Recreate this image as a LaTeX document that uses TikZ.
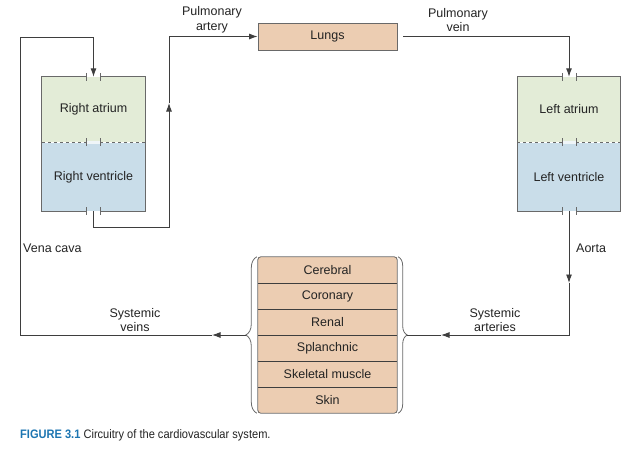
\documentclass[tikz,border=0pt]{standalone}
\usepackage{fontspec}
\setmainfont{Liberation Sans}
\newfontfamily\capfont[FakeStretch=0.9]{Liberation Sans}
\usetikzlibrary{arrows.meta,decorations.pathreplacing}
\definecolor{atrgreen}{RGB}{227,236,215}
\definecolor{venblue}{RGB}{201,221,233}
\definecolor{tanfill}{RGB}{236,205,178}
\definecolor{linec}{RGB}{62,62,62}
\definecolor{bordc}{RGB}{105,105,105}
\definecolor{textc}{RGB}{35,35,35}
\definecolor{capblue}{RGB}{28,117,177}
\newcommand\chamberborders[2]{%
  \draw[boxline] ([xshift=-7pt]#1.north) -- (#1.north west) -- (#2.south west) -- ([xshift=-7pt]#2.south);
  \draw[boxline] ([xshift=7pt]#1.north) -- (#1.north east) -- (#2.south east) -- ([xshift=7pt]#2.south);
  \draw[boxline,dashed] (#1.south west) -- ([xshift=-7pt]#1.south);
  \draw[boxline,dashed] (#1.south east) -- ([xshift=7pt]#1.south);
  \fill[white!70!venblue] ([xshift=-7pt,yshift=1pt]#1.south) rectangle ([xshift=7pt,yshift=-1.5pt]#1.south);
  \foreach \a in {#1.north,#1.south,#2.south}{
    \foreach \s in {-7,7}{
      \draw[boxline] ([xshift=\s pt,yshift=4pt]\a) -- ([xshift=\s pt,yshift=-4pt]\a);
    }
  }
}
\begin{document}
\begin{tikzpicture}[x=1pt,y=-1pt,
  txt/.style={font=\fontsize{12.5}{14.5}\selectfont, text=textc},
  lbl/.style={txt, align=center, inner sep=0pt},
  chamber/.style={txt, minimum width=103pt, inner sep=0pt},
  atr/.style={chamber, fill=atrgreen, minimum height=65pt},
  ven/.style={chamber, fill=venblue, minimum height=68pt},
  organ/.style={txt, fill=tanfill, minimum width=139pt, minimum height=26pt, inner sep=0pt},
  boxline/.style={draw=bordc, line width=0.8pt},
  flow/.style={draw=linec, line width=0.9pt},
  tip/.style={-{Latex[length=8.5pt,width=6pt]}},
  bracestyle/.style={draw=bordc, line width=0.8pt, decorate}]
\useasboundingbox (0,0) rectangle (638,448);

% heart chambers
\node[atr] (ra) at (93.5,109.5) {Right atrium};
\node[ven] (rv) at (93.5,177) {Right ventricle};
\node[atr] (la) at (569,109.5) {Left atrium};
\node[ven] (lv) at (569,177) {Left ventricle};
\chamberborders{ra}{rv}
\chamberborders{la}{lv}

% lungs
\node[organ, minimum height=27pt, draw=bordc, line width=0.8pt] (lungs) at (327.5,36.5) {Lungs};

% systemic organs
\node[organ] (o1) at (327.5,270) {Cerebral};
\node[organ] (o2) at (327.5,296) {Coronary};
\node[organ] (o3) at (327.5,322) {Renal};
\node[organ] (o4) at (327.5,348) {Splanchnic};
\node[organ] (o5) at (327.5,374) {Skeletal muscle};
\node[organ] (o6) at (327.5,400) {Skin};
\foreach \i in {1,...,5}{
  \draw[draw=linec, line width=0.8pt] (o\i.south west) -- (o\i.south east);
}
\draw[boxline, rounded corners=3pt] (o1.north west) rectangle (o6.south east);
\draw[bracestyle, decoration={brace, amplitude=11pt}] ([xshift=-1pt]o6.south west) -- ([xshift=-1pt]o1.north west);
\draw[bracestyle, decoration={brace, amplitude=9pt}] ([xshift=1pt]o1.north east) -- ([xshift=1pt]o6.south east);

% named points
\coordinate (lbt) at (246,335);
\coordinate (rbt) at (407,335);
\coordinate (svarr) at (212,335);
\coordinate (vcb) at (20,335);
\coordinate (vct) at (20,37);
\coordinate (pab) at (169,227);
\coordinate (paarr) at (169,103);
\coordinate (aoarr) at (569,283);
\coordinate (saarr) at (441,335);

% connectors
\draw[flow, tip] (lbt) -- (svarr);
\draw[flow, tip] (svarr) -- (vcb) -- (vct) -| (ra.north);
\draw[flow, tip] (rv.south) |- (pab) -- (paarr);
\draw[flow, tip] (paarr) |- (lungs.west);
\draw[flow, tip] ([xshift=6pt]lungs.east) -| (la.north);
\draw[flow, tip] (lv.south) -- (aoarr);
\draw[flow, tip] (aoarr) |- (saarr);
\draw[flow] (saarr) -- (rbt);

% labels
\node[lbl] (lpa) at (212,20) {Pulmonary\\artery};
\node[lbl] (lpv) at (458,20) {Pulmonary\\vein};
\node[lbl, anchor=west] (lvc) at (23,248) {Vena cava};
\node[lbl, anchor=west] (lao) at (576,248) {Aorta};
\node[lbl] (lsv) at (135,320) {Systemic\\veins};
\node[lbl] (lsa) at (495,320) {Systemic\\arteries};

% caption
\node[anchor=base west, inner sep=0pt, text=textc] (cap) at (20,438)
  {\capfont\fontsize{12.3}{14}\selectfont\textcolor{capblue}{\bfseries FIGURE 3.1} Circuitry of the cardiovascular system.};
\end{tikzpicture}
\end{document}
